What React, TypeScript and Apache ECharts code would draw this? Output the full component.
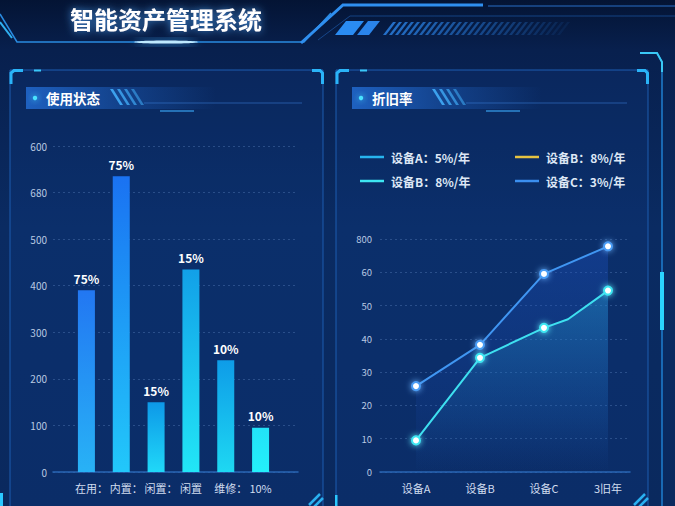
import React, { useEffect, useRef } from 'react';
import * as echarts from 'echarts';

// ---------- data ----------
const titleText = '智能资产管理系统';
const panelTitles = ['使用状态', '折旧率'];

const barCategories = ['在用：', '内置：', '闲置：', '闲置', '维修：', '10%'];
const barValues = [390, 635, 150, 435, 240, 95];
const barLabels = ['75%', '75%', '15%', '15%', '10%', '10%'];
const barTickLabels = ['0', '100', '200', '300', '400', '500', '680', '600'];

const lineCategories = ['设备A', '设备B', '设备C', '3旧年'];
const lineTickLabels = ['0', '10', '20', '30', '40', '50', '60', '800'];
const legendKeys = ['A', 'B1', 'B2', 'C'];
const legendLabels = ['设备A：5%/年', '设备B：8%/年', '设备B：8%/年', '设备C：3%/年'];
const seriesCValues = [25.8, 38.2, 59.5, 67.8];
const seriesBPoints: number[][] = [[0, 9.5], [1, 34.3], [2, 43.3], [2.375, 45.9], [3, 54.5]];

// ---------- styles ----------
const FONT = '"Noto Sans CJK SC", "Noto Sans", sans-serif';
const barGradients = [
  ['#2277f2', '#28b2f6'],
  ['#1a72f2', '#22c8fa'],
  ['#0d98e8', '#20d8f8'],
  ['#12a0e8', '#22e6f6'],
  ['#0e9ce8', '#1ed8f2'],
  ['#22e2f8', '#24f0fa'],
];
const legendColors: Record<string, string> = { A: '#27b4ee', B1: '#e6c341', B2: '#3ee6f2', C: '#3b8ff0' };

function lg(x1: number, y1: number, x2: number, y2: number, stops: [number, string][]) {
  return new echarts.graphic.LinearGradient(x1, y1, x2, y2, stops.map(([offset, color]) => ({ offset, color })));
}

function buildGraphics() {
  const g: any[] = [];
  // title frame
  g.push({ type: 'polyline', z: 1, shape: { points: [[0, 14], [17, 42], [304, 42], [331, 13]] }, style: { stroke: '#2a8be0', lineWidth: 1.5, fill: 'none' } });
  g.push({ type: 'polyline', z: 1, shape: { points: [[0, 22], [12, 38]] }, style: { stroke: '#2fb0f0', lineWidth: 2, fill: 'none' } });
  g.push({ type: 'ellipse', z: 2, shape: { cx: 166, cy: 42, rx: 32, ry: 1.6 }, style: { fill: '#bfeaff', shadowBlur: 10, shadowColor: '#3ab0ff' } });
  g.push({ type: 'text', z: 5, x: 166, y: 18, style: { text: titleText, fill: '#ffffff', font: `bold 24px ${FONT}`, align: 'center', verticalAlign: 'middle', textShadowBlur: 8, textShadowColor: 'rgba(80,170,255,0.8)' } });
  // top right decorations
  g.push({ type: 'polyline', z: 1, shape: { points: [[301, 43], [343, 5], [483, 5]] }, style: { stroke: '#2f8ff0', lineWidth: 3, fill: 'none' } });
  g.push({ type: 'line', z: 1, shape: { x1: 488, y1: 6, x2: 675, y2: 6 }, style: { stroke: 'rgba(50,130,230,0.55)', lineWidth: 1.5 } });
  g.push({ type: 'polyline', z: 1, shape: { points: [[318, 40], [350, 16], [675, 16]] }, style: { stroke: 'rgba(40,120,220,0.45)', lineWidth: 1, fill: 'none' } });
  g.push({ type: 'polygon', z: 1, shape: { points: [[335, 35], [346, 21], [364, 21], [353, 35]] }, style: { fill: '#2a8cf2' } });
  g.push({ type: 'polygon', z: 1, shape: { points: [[357, 35], [368, 21], [380, 21], [369, 35]] }, style: { fill: '#2a84ea' } });
  for (let i = 0; i < 30; i++) {
    const x = 383 + i * 6;
    g.push({ type: 'polygon', z: 1, shape: { points: [[x, 35], [x + 10, 22], [x + 13, 22], [x + 3, 35]] }, style: { fill: '#2a7fe0', opacity: 0.85 - i * 0.026 } });
  }
  // right outer frame
  g.push({ type: 'polyline', z: 1, shape: { points: [[640, 53], [657, 53], [662, 62], [662, 506]] }, style: { stroke: '#1f7fd0', lineWidth: 1.5, fill: 'none' } });
  g.push({ type: 'polyline', z: 1, shape: { points: [[640, 53], [657, 53], [662, 62], [662, 72]] }, style: { stroke: '#3ac8f5', lineWidth: 2, fill: 'none' } });
  g.push({ type: 'rect', z: 1, shape: { x: 660, y: 272, width: 4, height: 58 }, style: { fill: '#2ad4ff' } });
  g.push({ type: 'rect', z: 1, shape: { x: 0, y: 493, width: 3, height: 13 }, style: { fill: '#2ac8ff' } });

  const panels = [
    { x: 10, w: 313, title: panelTitles[0], slash: 100 },
    { x: 336, w: 312, title: panelTitles[1], slash: 96 },
  ];
  panels.forEach((p) => {
    const { x, w } = p;
    g.push({ type: 'rect', z: 0, shape: { x, y: 70, width: w, height: 450 }, style: { fill: 'rgba(16,60,135,0.25)', stroke: '#1d5db0', lineWidth: 1 } });
    g.push({ type: 'polyline', z: 1, shape: { points: [[x + 1, 84], [x + 1, 73], [x + 4, 70.5], [x + 13, 70.5]] }, style: { stroke: '#2ab4f8', lineWidth: 3, fill: 'none' } });
    g.push({ type: 'polyline', z: 1, shape: { points: [[x + w - 11, 70.5], [x + w - 3, 70.5], [x + w - 0.5, 73], [x + w - 0.5, 84]] }, style: { stroke: '#2ab4f8', lineWidth: 3, fill: 'none' } });
    g.push({ type: 'line', z: 1, shape: { x1: x + 24, y1: 70.5, x2: x + 31, y2: 70.5 }, style: { stroke: '#3ac8f8', lineWidth: 2 } });
    g.push({ type: 'rect', z: 1, shape: { x: x + 16, y: 87, width: 190, height: 22 }, style: { fill: lg(0, 0, 1, 0, [[0, 'rgba(35,110,215,0.8)'], [0.5, 'rgba(35,110,215,0.35)'], [1, 'rgba(35,110,215,0)']]) } });
    g.push({ type: 'circle', z: 2, shape: { cx: x + 25, cy: 98, r: 2.2 }, style: { fill: '#4ae2ff', shadowBlur: 6, shadowColor: '#4ae2ff' } });
    g.push({ type: 'text', z: 3, x: x + 36, y: 98, style: { text: p.title, fill: '#ffffff', font: `bold 13.5px ${FONT}`, verticalAlign: 'middle' } });
    for (let i = 0; i < 4; i++) {
      const sx = x + p.slash + i * 7;
      g.push({ type: 'polygon', z: 2, shape: { points: [[sx, 89], [sx + 3, 89], [sx + 13, 105], [sx + 10, 105]] }, style: { fill: '#3ea6f2', opacity: 0.95 - i * 0.12 } });
    }
    g.push({ type: 'line', z: 1, shape: { x1: x + p.slash + 34, y1: 103, x2: x + w - 21, y2: 103 }, style: { stroke: 'rgba(60,130,220,0.55)', lineWidth: 1 } });
    g.push({ type: 'line', z: 1, shape: { x1: x + 22, y1: 111, x2: x + 106, y2: 111 }, style: { stroke: lg(0, 0, 1, 0, [[0, 'rgba(60,170,250,0.2)'], [0.6, 'rgba(70,180,255,0.9)'], [1, 'rgba(60,170,250,0.4)']]), lineWidth: 1.5 } });
    g.push({ type: 'line', z: 1, shape: { x1: x + 150, y1: 111, x2: x + 184, y2: 111 }, style: { stroke: 'rgba(60,170,250,0.75)', lineWidth: 1.5 } });
    // bottom right stripes
    g.push({ type: 'line', z: 1, shape: { x1: x + w - 14, y1: 505, x2: x + w - 3, y2: 494 }, style: { stroke: '#2ab0f0', lineWidth: 2.5 } });
    g.push({ type: 'line', z: 1, shape: { x1: x + w - 9, y1: 507, x2: x + w, y2: 498 }, style: { stroke: '#2ab0f0', lineWidth: 2.5 } });
  });
  g.push({ type: 'rect', z: 1, shape: { x: 335, y: 495, width: 2.5, height: 11 }, style: { fill: '#2ac8ff' } });
  return g;
}

function buildOption(): any {
  const axisLabelColor = '#b9c9e2';
  const splitLine = { show: true, lineStyle: { color: 'rgba(100,140,200,0.35)', type: [2, 3], width: 1 } };
  const axisLine = { show: true, lineStyle: { color: '#2a66b4', width: 1.5 } };

  const barData = barValues.map((v, i) => ({
    value: v,
    itemStyle: { color: lg(0, 0, 0, 1, [[0, barGradients[i][0]], [1, barGradients[i][1]]]) },
  }));

  const cData = seriesCValues.map((v, i) => [i, v]);
  const bData = seriesBPoints.map((p) => ({
    value: p,
    symbol: Number.isInteger(p[0]) ? 'circle' : 'none',
  }));

  const legendItem = (k: string) => ({ name: k, itemStyle: { color: legendColors[k], borderWidth: 0, shadowBlur: 0 } });
  const legendCommon = {
    top: 146, orient: 'vertical', itemGap: 12, itemWidth: 24, itemHeight: 2.5, icon: 'rect',
    formatter: (n: string) => legendLabels[legendKeys.indexOf(n)],
    textStyle: { color: '#dde7f5', fontSize: 12, fontWeight: 'bold', fontFamily: FONT, padding: [0, 0, 0, 2] },
  };

  return {
    animation: false,
    backgroundColor: lg(0, 0, 0, 1, [[0, '#041434'], [0.1, '#08204e'], [0.45, '#0a2b62'], [1, '#0a295e']]),
    textStyle: { fontFamily: FONT },
    graphic: buildGraphics(),
    legend: [
      { ...legendCommon, left: 355, data: [legendItem('A'), legendItem('B2')] },
      { ...legendCommon, left: 510, data: [legendItem('B1'), legendItem('C')] },
    ],
    grid: [
      { left: 53, right: 675 - 298, top: 146, bottom: 34 },
      { left: 69, right: 675 - 278, top: 146, bottom: 34 },
      { left: 380, right: 675 - 630, top: 239, bottom: 34 },
      { left: 384, right: 675 - 640, top: 239, bottom: 34 },
    ],
    xAxis: [
      { type: 'category', gridIndex: 0, data: [''], axisLine, axisTick: { show: false }, axisLabel: { show: false } },
      {
        type: 'category', gridIndex: 1, data: barCategories, axisLine: { show: false }, axisTick: { show: false },
        axisLabel: {
          color: '#d0dcef', fontSize: 11, margin: 10, fontFamily: FONT, interval: 0, hideOverlap: false,
          formatter: (v: string) => (v.endsWith('：') ? `{c|${v}}` : v),
          rich: { c: { color: '#d0dcef', fontSize: 11, fontFamily: FONT, padding: [0, 0, 0, 10] } },
        },
      },
      { type: 'category', gridIndex: 2, data: [''], axisLine, axisTick: { show: false }, axisLabel: { show: false } },
      {
        type: 'category', gridIndex: 3, data: lineCategories, axisLine: { show: false }, axisTick: { show: false },
        axisLabel: { color: '#d0dcef', fontSize: 11, margin: 10, fontFamily: FONT, interval: 0 },
      },
      { type: 'value', gridIndex: 3, min: -0.5, max: 3.5, show: false },
    ],
    yAxis: [
      {
        type: 'value', gridIndex: 0, min: 0, max: 700, interval: 100, splitLine, axisLine: { show: false }, axisTick: { show: false },
        axisLabel: { color: axisLabelColor, fontSize: 10, margin: 6, formatter: (v: number) => barTickLabels[Math.round(v / 100)] },
      },
      { type: 'value', gridIndex: 1, min: 0, max: 700, show: false },
      {
        type: 'value', gridIndex: 2, min: 0, max: 70, interval: 10, splitLine, axisLine: { show: false }, axisTick: { show: false },
        axisLabel: { color: axisLabelColor, fontSize: 9.5, margin: 8, formatter: (v: number) => lineTickLabels[Math.round(v / 10)] },
      },
      { type: 'value', gridIndex: 3, min: 0, max: 70, show: false },
    ],
    series: [
      {
        type: 'bar', xAxisIndex: 1, yAxisIndex: 1, data: barData, barWidth: 17,
        label: {
          show: true, position: 'top', distance: 6, color: '#ffffff', fontSize: 12, fontWeight: 'bold', fontFamily: FONT,
          formatter: (p: any) => barLabels[p.dataIndex],
        },
      },
      { name: 'A', type: 'line', xAxisIndex: 4, yAxisIndex: 3, data: [], itemStyle: { color: legendColors.A }, lineStyle: { color: legendColors.A } },
      { name: 'B1', type: 'line', xAxisIndex: 4, yAxisIndex: 3, data: [], itemStyle: { color: legendColors.B1 }, lineStyle: { color: legendColors.B1 } },
      {
        name: 'C', type: 'line', xAxisIndex: 4, yAxisIndex: 3, data: cData, symbol: 'circle', symbolSize: 8,
        color: legendColors.C,
        lineStyle: { color: '#4096f2', width: 2 },
        itemStyle: { color: '#ffffff', borderColor: '#4a9cf5', borderWidth: 2, shadowBlur: 6, shadowColor: '#6ab4ff' },
        areaStyle: { color: lg(0, 0, 0, 1, [[0, 'rgba(28,80,190,0.55)'], [0.7, 'rgba(28,80,190,0.2)'], [1, 'rgba(28,80,190,0)']]) },
        z: 3,
      },
      {
        name: 'B2', type: 'line', xAxisIndex: 4, yAxisIndex: 3, data: bData, symbolSize: 8,
        color: legendColors.B2,
        lineStyle: { color: '#3ee0f0', width: 2 },
        itemStyle: { color: '#ffffff', borderColor: '#3ee6f2', borderWidth: 2, shadowBlur: 6, shadowColor: '#5ff0ff' },
        areaStyle: { color: lg(0, 0, 0, 1, [[0, 'rgba(40,170,215,0.5)'], [0.7, 'rgba(30,120,190,0.2)'], [1, 'rgba(30,100,180,0)']]) },
        z: 4,
      },
    ],
  };
}

export default function App() {
  const ref = useRef<HTMLDivElement>(null);
  useEffect(() => {
    document.body.style.margin = '0';
    const chart = echarts.init(ref.current!, null, { renderer: 'svg' });
    chart.setOption(buildOption());
    return () => chart.dispose();
  }, []);
  return <div ref={ref} style={{ position: 'absolute', left: 0, top: 0, width: 675, height: 506 }} />;
}
